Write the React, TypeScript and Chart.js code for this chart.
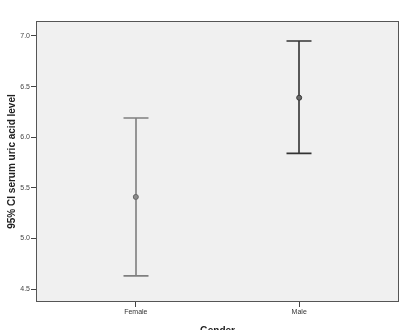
import React, { useEffect, useRef } from "react";
import { Chart, registerables } from "chart.js";

Chart.register(...registerables);

const categories = ["Female", "Male"];
const means = [5.41, 6.39];
const lowerCI = [4.63, 5.84];
const upperCI = [6.19, 6.95];
const yTicks = [4.5, 5.0, 5.5, 6.0, 6.5, 7.0];
const barColors = ["#7f7f7f", "#333333"];

const FONT = "'Liberation Sans', Arial, sans-serif";

const framePlugin = {
  id: "frame",
  beforeDraw(chart: any) {
    const { ctx, chartArea: a } = chart;
    ctx.save();
    ctx.fillStyle = "#f0f0f0";
    ctx.fillRect(a.left, a.top, a.right - a.left, a.bottom - a.top);
    ctx.restore();
  },
  afterDraw(chart: any) {
    const { ctx, chartArea: a } = chart;
    ctx.save();
    ctx.strokeStyle = "#555555";
    ctx.lineWidth = 1;
    ctx.strokeRect(a.left + 0.5, a.top + 0.5, a.right - a.left - 1, a.bottom - a.top - 1);
    ctx.restore();
  },
};

const errorBarPlugin = {
  id: "errorBars",
  beforeDatasetsDraw(chart: any) {
    const { ctx, scales } = chart;
    const xs = scales.x;
    const ys = scales.y;
    ctx.save();
    categories.forEach((_, i) => {
      const x = Math.round(xs.getPixelForValue(i));
      const yl = ys.getPixelForValue(lowerCI[i]);
      const yu = ys.getPixelForValue(upperCI[i]);
      ctx.strokeStyle = barColors[i];
      ctx.lineWidth = 1.6;
      ctx.beginPath();
      ctx.moveTo(x, yl);
      ctx.lineTo(x, yu);
      ctx.moveTo(x - 12.5, yl);
      ctx.lineTo(x + 12.5, yl);
      ctx.moveTo(x - 12.5, yu);
      ctx.lineTo(x + 12.5, yu);
      ctx.stroke();
    });
    ctx.restore();
  },
};

export default function App() {
  const ref = useRef<HTMLCanvasElement | null>(null);

  useEffect(() => {
    if (!ref.current) return;
    const chart = new Chart(ref.current, {
      type: "scatter",
      data: {
        datasets: [
          {
            data: categories.map((_, i) => ({ x: i, y: means[i] })),
            pointRadius: 2.5,
            pointBackgroundColor: ["#8c8c8c", "#6a6a6a"],
            pointBorderColor: ["#666666", "#3a3a3a"],
            pointBorderWidth: 1,
          },
        ],
      },
      options: {
        animation: false,
        responsive: false,
        events: [],
        layout: { padding: { top: 21, right: 12, left: 0, bottom: 0 } },
        plugins: { legend: { display: false }, tooltip: { enabled: false } },
        scales: {
          x: {
            type: "linear",
            min: -0.611,
            max: 1.611,
            afterBuildTicks: (s: any) => {
              s.ticks = categories.map((_, i) => ({ value: i }));
            },
            afterFit: (s: any) => {
              s.height = 28;
            },
            ticks: {
              callback: (v: any) => categories[v] ?? "",
              font: { family: FONT, size: 7 },
              color: "#333333",
              padding: 1,
              maxRotation: 0,
            },
            grid: { drawOnChartArea: false, drawTicks: true, tickLength: 5, color: "#444444" },
            border: { display: false },
            title: {
              display: true,
              text: "Gender",
              font: { family: FONT, size: 10, weight: "bold" },
              color: "#222222",
              padding: { top: 0, bottom: -7 },
            },
          },
          y: {
            type: "linear",
            min: 4.372,
            max: 7.148,
            afterBuildTicks: (s: any) => {
              s.ticks = yTicks.map((v) => ({ value: v }));
            },
            afterFit: (s: any) => {
              s.width = 36;
            },
            ticks: {
              callback: (v: any) => Number(v).toFixed(1),
              font: { family: FONT, size: 7 },
              color: "#444444",
              padding: 1,
            },
            grid: { drawOnChartArea: false, drawTicks: true, tickLength: 5, color: "#444444" },
            border: { display: false },
            title: {
              display: true,
              text: "95% CI serum uric acid level",
              font: { family: FONT, size: 10, weight: "bold" },
              color: "#222222",
              padding: { top: 6.5, bottom: 0 },
            },
          },
        },
      },
      plugins: [framePlugin, errorBarPlugin],
    } as any);
    return () => chart.destroy();
  }, []);

  return (
    <div style={{ position: "fixed", left: 0, top: 0, width: 411, height: 330, background: "#ffffff" }}>
      <canvas ref={ref} width={411} height={330} style={{ display: "block" }} />
    </div>
  );
}
